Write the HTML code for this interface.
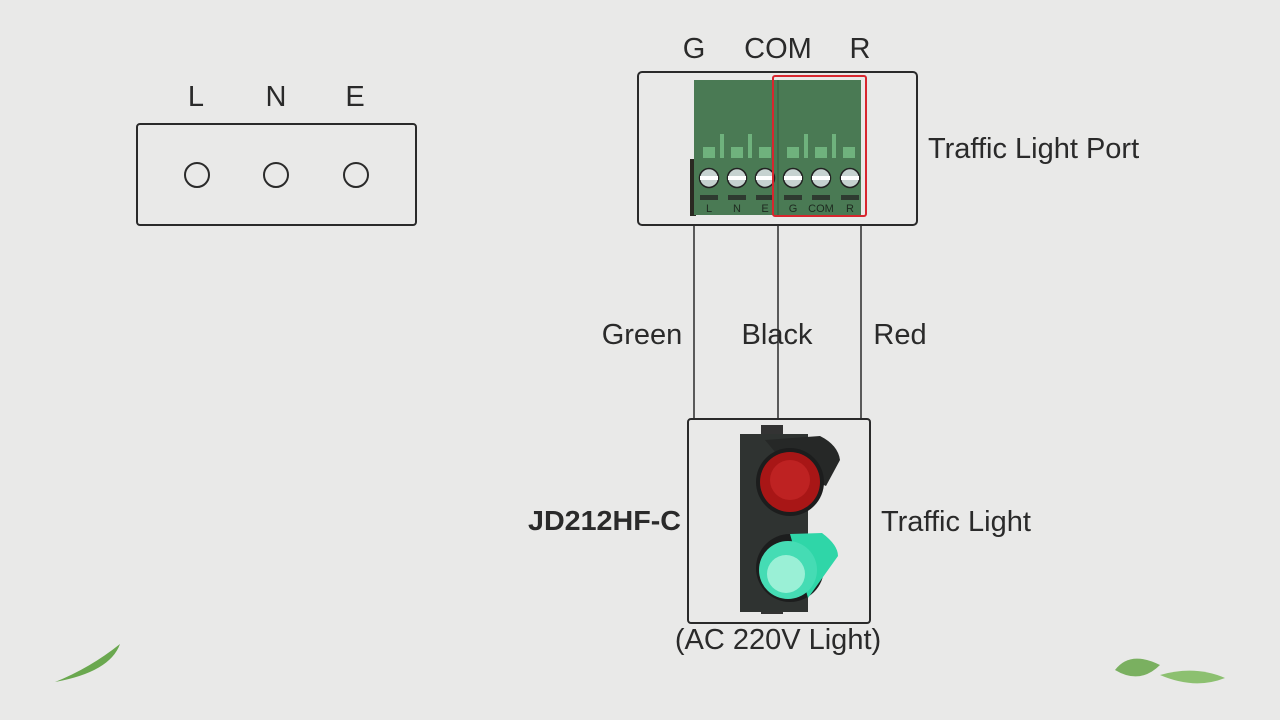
<html><body style="margin:0;background:#e9e9e8">
<svg width="1280" height="720" viewBox="0 0 1280 720" xmlns="http://www.w3.org/2000/svg" font-family="Liberation Sans, sans-serif">
<rect width="1280" height="720" fill="#e9e9e8"/>
<g font-size="29" fill="#2a2a2a" text-anchor="middle">
<text x="196" y="106">L</text><text x="276" y="106">N</text><text x="355" y="106">E</text>
<text x="694" y="58">G</text><text x="778" y="58">COM</text><text x="860" y="58">R</text>
<text x="642" y="344">Green</text><text x="777" y="344">Black</text><text x="900" y="344">Red</text>
<text x="778" y="649">(AC 220V Light)</text>
</g>
<g font-size="29" fill="#2a2a2a">
<text x="928" y="158">Traffic Light Port</text>
<text x="881" y="531">Traffic Light</text>
</g>
<text x="528" y="530" font-size="28" font-weight="bold" fill="#2a2a2a" textLength="153" lengthAdjust="spacingAndGlyphs">JD212HF-C</text>
<rect x="137" y="124" width="279" height="101" rx="3" fill="none" stroke="#2a2a2a" stroke-width="2"/>
<g fill="none" stroke="#2a2a2a" stroke-width="2"><circle cx="197" cy="175" r="12"/><circle cx="276" cy="175" r="12"/><circle cx="356" cy="175" r="12"/></g>
<rect x="638" y="72" width="279" height="153" rx="4" fill="none" stroke="#2a2a2a" stroke-width="2"/>
<rect x="690" y="159" width="6" height="57" fill="#2a2a22"/>
<rect x="694" y="80" width="167" height="135" fill="#4a7a54"/>
<line x1="778" y1="80" x2="778" y2="215" stroke="#3a6444" stroke-width="1.5"/>
<g fill="#6fb27d">
<rect x="703" y="147" width="12" height="11"/><rect x="720" y="134" width="4" height="24"/><rect x="731" y="147" width="12" height="11"/><rect x="748" y="134" width="4" height="24"/><rect x="759" y="147" width="12" height="11"/>
<rect x="787" y="147" width="12" height="11"/><rect x="804" y="134" width="4" height="24"/><rect x="815" y="147" width="12" height="11"/><rect x="832" y="134" width="4" height="24"/><rect x="843" y="147" width="12" height="11"/>
</g>
<g stroke="#222" stroke-width="1.5">
<circle cx="709" cy="178" r="9.5" fill="#c6d2d0"/><circle cx="737" cy="178" r="9.5" fill="#c6d2d0"/><circle cx="765" cy="178" r="9.5" fill="#c6d2d0"/><circle cx="793" cy="178" r="9.5" fill="#c6d2d0"/><circle cx="821" cy="178" r="9.5" fill="#c6d2d0"/><circle cx="850" cy="178" r="9.5" fill="#c6d2d0"/>
</g>
<g fill="#fff"><rect x="700" y="176" width="18" height="4"/><rect x="728" y="176" width="18" height="4"/><rect x="756" y="176" width="18" height="4"/><rect x="784" y="176" width="18" height="4"/><rect x="812" y="176" width="18" height="4"/><rect x="841" y="176" width="18" height="4"/></g>
<g fill="#2e3a30"><rect x="700" y="195" width="18" height="5"/><rect x="728" y="195" width="18" height="5"/><rect x="756" y="195" width="18" height="5"/><rect x="784" y="195" width="18" height="5"/><rect x="812" y="195" width="18" height="5"/><rect x="841" y="195" width="18" height="5"/></g>
<g font-size="11" fill="#1e2a20" text-anchor="middle"><text x="709" y="212">L</text><text x="737" y="212">N</text><text x="765" y="212">E</text><text x="793" y="212">G</text><text x="821" y="212">COM</text><text x="850" y="212">R</text></g>
<rect x="773" y="76" width="93" height="140" rx="2" fill="none" stroke="#d8262e" stroke-width="2"/>
<g stroke="#2a2a2a" stroke-width="1.5"><line x1="694" y1="225" x2="694" y2="419"/><line x1="778" y1="225" x2="778" y2="419"/><line x1="861" y1="225" x2="861" y2="419"/></g>
<rect x="688" y="419" width="182" height="204" rx="3" fill="none" stroke="#2a2a2a" stroke-width="2"/>
<rect x="761" y="425" width="22" height="12" fill="#333"/><rect x="761" y="604" width="22" height="10" fill="#333"/>
<rect x="740" y="434" width="68" height="178" fill="#2f3331"/>
<path d="M765 440 L820 436 Q838 445 840 460 L826 486 L790 470 Z" fill="#262827"/>
<circle cx="790" cy="482" r="34" fill="#1c1d1d"/>
<circle cx="790" cy="482" r="30" fill="#a81616"/>
<circle cx="790" cy="480" r="20" fill="#be2222"/>
<circle cx="790" cy="568" r="34" fill="#1c1d1d"/>
<path d="M790 534 L822 533 Q838 545 838 556 L808 598 Z" fill="#2fd6a8"/>
<circle cx="788" cy="570" r="29" fill="#45dcb4"/>
<circle cx="786" cy="574" r="19" fill="#9af0d6"/>
<path d="M55 682 Q90 668 120 644 Q110 672 55 682Z" fill="#6aa84f"/>
<path d="M1115 670 Q1130 650 1160 665 Q1140 685 1115 670Z" fill="#7ab060"/>
<path d="M1160 675 Q1195 665 1225 678 Q1195 690 1160 675Z" fill="#8cc070"/>
</svg>
</body></html>
